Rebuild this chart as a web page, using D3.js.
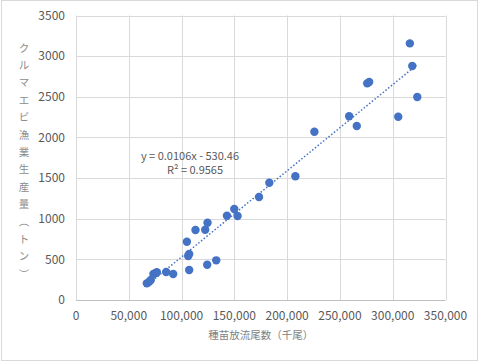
<!DOCTYPE html>
<html>
<head>
<meta charset="utf-8">
<script src="https://cdn.jsdelivr.net/npm/d3@7"></script>
<style>
  body { margin: 0; background: #fff; }
  svg { display: block; }
  text { font-family: "Noto Sans CJK JP", "Noto Sans", sans-serif; }
</style>
</head>
<body>
<div id="chart"></div>
<script>
// released fry (thousand) vs catch (t)
const releases = [67080, 69260, 70870, 73340, 75200, 76570, 85390, 92030, 105030, 106270,
  107210, 107210, 113190, 122400, 124580, 124290, 132830, 142990, 149910, 153040,
  173350, 183120, 207790, 225810, 258740, 265950, 275820, 277720, 305230, 318520,
  316240, 323260];
const catches = [205, 225, 246, 320, 330, 341, 344, 320, 717, 541,
  566, 369, 861, 865, 951, 434, 488, 1037, 1119, 1033,
  1267, 1443, 1522, 2070, 2260, 2140, 2665, 2681, 2255, 2878,
  3157, 2497];
const xTicks = [0, 50000, 100000, 150000, 200000, 250000, 300000, 350000];
const yTicks = [0, 500, 1000, 1500, 2000, 2500, 3000, 3500];
const trendSlope = 0.0106;
const trendIntercept = -530.46;
const equationLines = ["y = 0.0106x - 530.46", "R² = 0.9565"];
const yTitle = "クルマエビ漁業生産量（トン）";
const xTitle = "種苗放流尾数（千尾）";

const W = 481, H = 362;
const margin = { top: 15.5, right: 35.5, bottom: 62, left: 76 };

const svg = d3.select("#chart").append("svg")
    .attr("width", W)
    .attr("height", H);

// chart border
svg.append("rect")
    .attr("x", 1.5).attr("y", 0.5)
    .attr("width", 476).attr("height", 360)
    .attr("fill", "#fff")
    .attr("stroke", "#d9d9d9");

const x = d3.scaleLinear().domain([0, 350000]).range([margin.left, W - margin.right]);
const y = d3.scaleLinear().domain([0, 3500]).range([H - margin.bottom, margin.top]);

// grid
svg.append("g").selectAll("line").data(yTicks).join("line")
    .attr("x1", x(0)).attr("x2", x(350000))
    .attr("y1", d => Math.round(y(d)) + 0.5).attr("y2", d => Math.round(y(d)) + 0.5)
    .attr("stroke", d => d === 0 ? "#bfbfbf" : "#d9d9d9");
svg.append("g").selectAll("line").data(xTicks).join("line")
    .attr("y1", y(0)).attr("y2", y(3500))
    .attr("x1", d => Math.round(x(d)) + 0.5).attr("x2", d => Math.round(x(d)) + 0.5)
    .attr("stroke", "#d9d9d9");

// tick labels
svg.append("g").selectAll("text").data(yTicks).join("text")
    .attr("x", 65)
    .attr("y", d => y(d))
    .attr("dy", "0.35em")
    .attr("text-anchor", "end")
    .attr("font-size", 12)
    .attr("fill", "#595959")
    .text(d => d);
svg.append("g").selectAll("text").data(xTicks).join("text")
    .attr("x", d => x(d))
    .attr("y", 316)
    .attr("dy", "0.35em")
    .attr("text-anchor", "middle")
    .attr("font-size", 12)
    .attr("fill", "#595959")
    .text(d => d3.format(",")(d));

// axis titles
svg.append("text")
    .attr("x", (x(0) + x(350000)) / 2)
    .attr("y", 335)
    .attr("dy", "0.35em")
    .attr("text-anchor", "middle")
    .attr("font-size", 10.5)
    .attr("fill", "#7f7f7f")
    .text(xTitle);

const chars = Array.from(yTitle);
const charY = d3.scaleLinear().domain([0, chars.length - 1]).range([48, 274]);
svg.append("g").selectAll("text").data(chars).join("text")
    .attr("x", 24)
    .attr("y", (d, i) => charY(i))
    .attr("dy", "0.35em")
    .attr("text-anchor", "middle")
    .attr("font-size", 10.5)
    .attr("fill", "#8c8c8c")
    .attr("transform", (d, i) => (d === "（" || d === "）") ? `rotate(90,24,${charY(i)})` : null)
    .text(d => d);

// trendline
const xMin = d3.min(releases), xMax = d3.max(releases);
svg.append("line")
    .attr("x1", x(xMin)).attr("y1", y(trendSlope * xMin + trendIntercept))
    .attr("x2", x(xMax)).attr("y2", y(trendSlope * xMax + trendIntercept))
    .attr("stroke", "#4472c4")
    .attr("stroke-width", 1.5)
    .attr("stroke-dasharray", "1.5 2");

// points
svg.append("g").selectAll("circle").data(releases).join("circle")
    .attr("cx", d => x(d))
    .attr("cy", (d, i) => y(catches[i]))
    .attr("r", 4.2)
    .attr("fill", "#4472c4");

// equation label
svg.append("g").selectAll("text").data(equationLines).join("text")
    .attr("x", (d, i) => i === 0 ? 190 : 195)
    .attr("y", (d, i) => 156 + i * 14.5)
    .attr("dy", "0.35em")
    .attr("text-anchor", "middle")
    .attr("font-size", 11)
    .attr("fill", "#595959")
    .text(d => d);
</script>
</body>
</html>
